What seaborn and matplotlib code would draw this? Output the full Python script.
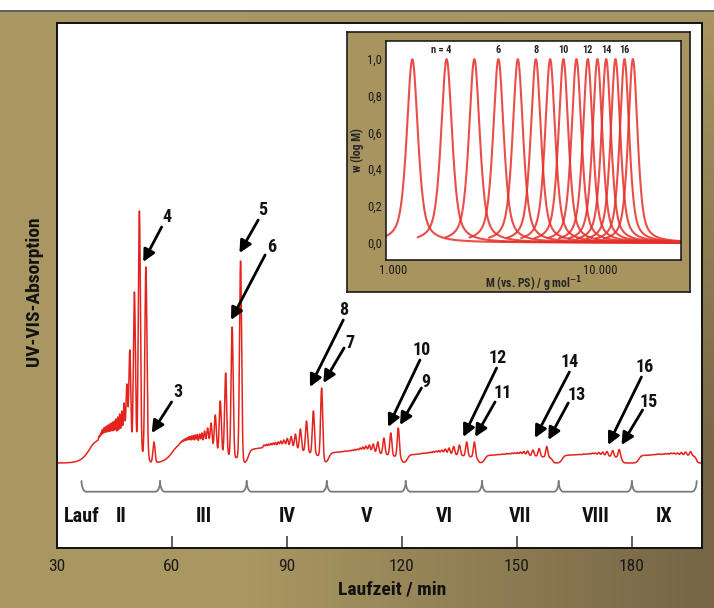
import numpy as np
import pandas as pd
import seaborn as sns
import matplotlib.pyplot as plt
from matplotlib.patches import Rectangle
from matplotlib.ticker import FixedLocator, FixedFormatter, NullLocator

# --- Laufzeit-Chromatogramm: Lauf II ... IX ---------------------------------
runs = ['II', 'III', 'IV', 'V', 'VI', 'VII', 'VIII', 'IX']
run_start = [39.0, 60.5, 79.9, 100.9, 121.4, 141.6, 161.8, 181.8]
run_rise = [1.3, 1.2, 0.3, 0.3, 0.3, 0.3, 0.3, 0.3]
run_stop = [54.0, 78.4, 99.7, 120.0, 139.9, 159.3, 177.5, 196.8]
# Grundlinie (Start, Mitte, Ende) jedes Laufs
run_level = [(0.34, 0.15, 0.08), (0.26, 0.13, 0.04), (0.13, 0.15, 0.05),
             (0.10, 0.11, 0.05), (0.08, 0.09, 0.05), (0.075, 0.08, 0.05),
             (0.075, 0.08, 0.05), (0.075, 0.08, 0.07)]

# Peaks je Lauf: Laufzeit / min und Peakhoehe
peaks_II_t = [41.0, 41.4, 41.8, 42.2, 42.6, 43.0, 43.4, 43.8, 44.2, 44.6, 45.0, 45.4,
              45.85, 46.35, 46.9, 47.5, 48.2, 49.0, 50.2, 51.5, 53.2, 55.3]
peaks_II_h = [0.27, 0.30, 0.33, 0.35, 0.36, 0.37, 0.38, 0.39, 0.40, 0.41, 0.42, 0.44,
              0.46, 0.49, 0.52, 0.60, 0.79, 1.13, 1.71, 2.52, 1.96, 0.21]
peaks_III_t = [61.5, 61.9, 62.3, 62.7, 63.1, 63.5, 63.9, 64.3, 64.7, 65.15, 65.6, 66.1,
               66.6, 67.2, 67.8, 68.5, 69.3, 70.2, 71.3, 72.6, 74.0, 75.7, 77.9]
peaks_III_h = [0.17, 0.19, 0.21, 0.225, 0.235, 0.245, 0.25, 0.26, 0.265, 0.27, 0.275, 0.28,
               0.285, 0.29, 0.30, 0.32, 0.35, 0.40, 0.48, 0.62, 0.90, 1.36, 2.02]
peaks_IV_t = [84.0, 84.6, 85.2, 85.8, 86.4, 87.0, 87.7, 88.4, 89.2, 90.1, 91.1,
              92.2, 93.5, 95.1, 96.9, 99.05]
peaks_IV_h = [0.18, 0.185, 0.19, 0.195, 0.20, 0.205, 0.21, 0.22, 0.23, 0.245, 0.265,
              0.29, 0.34, 0.42, 0.52, 0.75]
peaks_V_t = [104.0, 104.6, 105.2, 105.8, 106.4, 107.0, 107.7, 108.4, 109.1, 109.8,
             110.6, 111.5, 112.5, 113.7, 115.3, 117.1, 119.05]
peaks_V_h = [0.11, 0.115, 0.12, 0.12, 0.125, 0.13, 0.135, 0.14, 0.15, 0.16,
             0.17, 0.18, 0.19, 0.21, 0.25, 0.30, 0.35]
peaks_VI_t = [124.5, 125.1, 125.7, 126.3, 126.9, 127.5, 128.2, 128.9, 129.6, 130.4,
              131.3, 132.3, 133.5, 135.0, 136.9, 138.9]
peaks_VI_h = [0.09, 0.095, 0.10, 0.10, 0.105, 0.11, 0.115, 0.12, 0.125, 0.13,
              0.14, 0.15, 0.165, 0.18, 0.21, 0.21]
peaks_VII_t = [145.0, 145.6, 146.2, 146.8, 147.4, 148.0, 148.7, 149.4, 150.1, 150.9,
               151.8, 152.8, 154.2, 155.8, 157.8]
peaks_VII_h = [0.085, 0.085, 0.09, 0.09, 0.095, 0.095, 0.10, 0.10, 0.105, 0.11,
               0.115, 0.12, 0.13, 0.145, 0.165]
peaks_VIII_t = [165.0, 165.6, 166.2, 166.8, 167.5, 168.2, 168.9, 169.7, 170.5, 171.4,
                172.4, 173.5, 175.0, 176.7]
peaks_VIII_h = [0.08, 0.08, 0.085, 0.085, 0.09, 0.09, 0.095, 0.10, 0.10, 0.105,
                0.11, 0.115, 0.125, 0.135]
peaks_IX_t = [185.5, 186.1, 186.7, 187.3, 188.0, 188.7, 189.4, 190.2, 191.0, 191.9,
              192.9, 194.0, 195.3]
peaks_IX_h = [0.085, 0.085, 0.09, 0.09, 0.09, 0.095, 0.095, 0.10, 0.10, 0.10,
              0.105, 0.11, 0.115]

# Grenzen der Laeufe (Klammern unter der Kurve)
run_edges = [36.4, 56.9, 79.5, 100.4, 121.0, 140.9, 160.9, 180.0, 196.9]

# Pfeile: Nummer, Textposition, Pfeilanfang, Pfeilspitze
arrows = [
    ('3', 61.65, 0.71, 59.9, 0.61, 54.7, 0.30),
    ('4', 58.6, 2.46, 57.3, 2.36, 52.5, 2.01),
    ('5', 83.8, 2.53, 82.5, 2.43, 77.6, 2.10),
    ('6', 86.0, 2.16, 84.3, 2.08, 75.4, 1.43),
    ('7', 106.4, 1.20, 104.9, 1.15, 99.5, 0.80),
    ('8', 104.7, 1.53, 104.7, 1.43, 96.0, 0.76),
    ('9', 126.3, 0.81, 125.1, 0.75, 119.5, 0.38),
    ('10', 125.1, 1.13, 124.7, 1.03, 116.4, 0.36),
    ('11', 146.4, 0.70, 144.3, 0.61, 139.1, 0.26),
    ('12', 145.1, 1.05, 144.7, 0.95, 136.0, 0.26),
    ('13', 165.6, 0.68, 163.4, 0.60, 158.2, 0.23),
    ('14', 163.8, 1.01, 163.7, 0.91, 154.7, 0.25),
    ('15', 184.5, 0.61, 182.8, 0.53, 177.3, 0.18),
    ('16', 183.4, 0.96, 182.5, 0.86, 173.8, 0.18),
]

# --- Inset: Molmassenverteilungen ----------------------------------------
inset_n = list(range(3, 18))
inset_M = [1236, 1810, 2465, 3222, 4000, 4887, 5730, 6644, 7680, 8715, 9700,
           10690, 11860, 13110, 14390]
inset_fwhm = [0.064, 0.063, 0.062, 0.061, 0.060, 0.059, 0.058, 0.057, 0.057,
              0.056, 0.056, 0.055, 0.055, 0.054, 0.054]
inset_labels = {4: 'n = 4', 6: '6', 8: '8', 10: '10', 12: '12', 14: '14', 16: '16'}

RED = '#e4231d'
FONT = ['Liberation Sans Narrow', 'Roboto Condensed', 'DejaVu Sans Condensed',
        'Roboto', 'DejaVu Sans']

sns.set_theme(style='white')
plt.rcParams['font.family'] = FONT
plt.rcParams['font.stretch'] = 'condensed'


def step(x):
    return 0.5 * (1 + np.tanh(x / 2))


def baseline(t):
    out = np.zeros_like(t, dtype=float)
    for s, r, e, lv in zip(run_start, run_rise, run_stop, run_level):
        coef = np.polyfit([s, (s + e) / 2, e], lv, 2)
        tc = np.clip(t, s, e)
        out += np.polyval(coef, tc) * step((t - s) / r) * step((e - t) / 0.2)
    return out


pk_t = np.array(peaks_II_t + peaks_III_t + peaks_IV_t + peaks_V_t + peaks_VI_t
                + peaks_VII_t + peaks_VIII_t + peaks_IX_t)
pk_h = np.array(peaks_II_h + peaks_III_h + peaks_IV_h + peaks_V_h + peaks_VI_h
                + peaks_VII_h + peaks_VIII_h + peaks_IX_h)
gap = np.minimum(np.diff(pk_t, prepend=-np.inf), np.diff(pk_t, append=np.inf))
sig = np.minimum(0.27, 0.33 * gap)
A = np.exp(-(pk_t[:, None] - pk_t[None, :]) ** 2 / (2 * sig[None, :] ** 2))
amp = np.clip(np.linalg.solve(A, pk_h - baseline(pk_t)), 0, None)

t = np.arange(30.0, 198.3, 0.01)
signal = baseline(t) + (amp[None, :] * np.exp(-(t[:, None] - pk_t[None, :]) ** 2
                                             / (2 * sig[None, :] ** 2))).sum(axis=1)
chrom = pd.DataFrame({'Laufzeit': t, 'Absorption': signal})

# --- Figur ------------------------------------------------------------------
W, H = 714, 608
fig = plt.figure(figsize=(W / 100, H / 100), dpi=100)

bg = fig.add_axes([0, 0, 1, 1], zorder=0)
gx, gy = np.meshgrid(np.linspace(0, 1, 200), np.linspace(1, 0, 200))
s = np.clip((gx - 0.35) / 0.65, 0, 1) * np.clip((1 - gy) * 1.3, 0, 1)
c0 = np.array([169, 151, 98]) / 255
c1 = np.array([118, 101, 70]) / 255
bg.imshow(c0 * (1 - s[..., None]) + c1 * s[..., None], extent=[0, 1, 0, 1],
          aspect='auto', interpolation='bilinear')
bg.axis('off')
fig.add_artist(Rectangle((0, 1 - 10 / H), 1, 10 / H, transform=fig.transFigure,
                         facecolor='white', edgecolor='none', zorder=0.5))
fig.add_artist(plt.Line2D([0, 1], [1 - 10.5 / H] * 2, transform=fig.transFigure,
                          color='#555555', lw=1.2, zorder=0.6))

ax = fig.add_axes([57 / W, 60 / H, 645 / W, 525 / H], zorder=1)
ax.set_facecolor('white')
sns.lineplot(data=chrom, x='Laufzeit', y='Absorption', ax=ax, color=RED, lw=1.1,
             estimator=None)
ax.set_xlim(30, 198.3)
ax.set_ylim(-0.85, 4.40)
ax.set_yticks([])
ax.set_xticks([30, 60, 90, 120, 150, 180])
ax.tick_params(axis='x', bottom=True, direction='in', length=9, width=1.1,
               color='#333333', labelsize=12.5, pad=8, labelcolor='#1a1a1a')
for sp in ax.spines.values():
    sp.set_color('#111111')
    sp.set_linewidth(1.4)
ax.set_xlabel('Laufzeit / min', fontsize=14, fontweight='bold', color='#111111')
ax.xaxis.set_label_coords(0.52, -0.062)
ax.set_ylabel('UV-VIS-Absorption', fontsize=14, fontweight='bold', color='#111111')
ax.yaxis.set_label_coords(-0.021, 0.49)

# Klammern
y_line, y_top, r = -0.287, -0.18, 1.2
th = np.linspace(0, np.pi / 2, 20)
for i, (a, b) in enumerate(zip(run_edges[:-1], run_edges[1:])):
    xl = a + r * (1 - np.cos(th))
    yl = y_line + (y_top - y_line) * (1 - np.sin(th))
    xr = b - r * (1 - np.cos(th))
    xs = np.concatenate([xl, xr[::-1]])
    ys = np.concatenate([yl, yl[::-1]])
    ax.plot(xs, ys, color='#7a7a7a', lw=1.3)
    ax.text((a + b) / 2, -0.537, runs[i], ha='center', va='center',
            fontsize=14.5, fontweight='bold', color='#111111')
ax.text(31.7, -0.537, 'Lauf', ha='left', va='center', fontsize=14.5,
        fontweight='bold', color='#111111')

for lab, tx, ty, ax0, ay0, ax1, ay1 in arrows:
    ax.annotate('', xy=(ax1, ay1), xytext=(ax0, ay0),
                arrowprops=dict(arrowstyle='-|>,head_length=0.6,head_width=0.3',
                                lw=2.0, color='black', shrinkA=0, shrinkB=0))
    ax.text(tx, ty, lab, ha='center', va='center', fontsize=13,
            fontweight='bold', color='#111111')

# --- Inset ---------------------------------------------------------------------
box = fig.add_axes([347.3 / W, 1 - 291.7 / H, 342.7 / W, 260 / H], zorder=2)
box.set_facecolor('#a8945f')
box.set_xticks([])
box.set_yticks([])
for sp in box.spines.values():
    sp.set_color('#1a1a1a')
    sp.set_linewidth(1.2)

ins = fig.add_axes([386 / W, 1 - 260 / H, 294.7 / W, 219.3 / H], zorder=3)
ins.set_facecolor('white')
rows = []
lo_lim, hi_lim = np.log10(922), np.log10(24500)
for n, m, fw in zip(inset_n, inset_M, inset_fwhm):
    c = np.log10(m)
    lx = np.linspace(max(lo_lim, c - 0.14), hi_lim, 400)
    d = lx - c
    w = 0.6 / (1 + (d / (fw / 2)) ** 2) + 0.4 * np.exp(-d ** 2 / (2 * (fw / 2.3548) ** 2))
    rows.append(pd.DataFrame({'M': 10 ** lx, 'w': w, 'n': n}))
dist = pd.concat(rows, ignore_index=True)
sns.lineplot(data=dist, x='M', y='w', hue='n', palette=['#e5302a'] * len(inset_n),
             legend=False, estimator=None, ax=ins, lw=1.5, alpha=0.85)
ins.set_xscale('log')
ins.set_xlim(922, 24500)
ins.set_ylim(-0.095, 1.10)
ins.xaxis.set_major_locator(FixedLocator([1000, 10000]))
ins.xaxis.set_major_formatter(FixedFormatter(['1.000', '10.000']))
ins.xaxis.set_minor_locator(NullLocator())
yt = [0.0, 0.2, 0.4, 0.6, 0.8, 1.0]
ins.yaxis.set_major_locator(FixedLocator(yt))
ins.yaxis.set_major_formatter(FixedFormatter([f'{v:.1f}'.replace('.', ',') for v in yt]))
ins.tick_params(length=0, labelsize=9, pad=3, labelcolor='#1a1a1a')
for sp in ins.spines.values():
    sp.set_color('#111111')
    sp.set_linewidth(1.1)
ins.set_xlabel('M (vs. PS) / g mol$^{\\mathbf{-1}}$', fontsize=8.5, fontweight='bold',
               labelpad=-2)
ins.set_ylabel('w (log M)', fontsize=8.5, fontweight='bold', labelpad=2)
for n, m in zip(inset_n, inset_M):
    if n in inset_labels:
        if n == 4:
            ins.text(m * 1.05, 1.05, inset_labels[n], ha='right', va='center',
                     fontsize=7.5, fontweight='bold')
        else:
            ins.text(m, 1.05, inset_labels[n], ha='center', va='center',
                     fontsize=7.5, fontweight='bold')

fig.savefig('out.png', dpi=100)
